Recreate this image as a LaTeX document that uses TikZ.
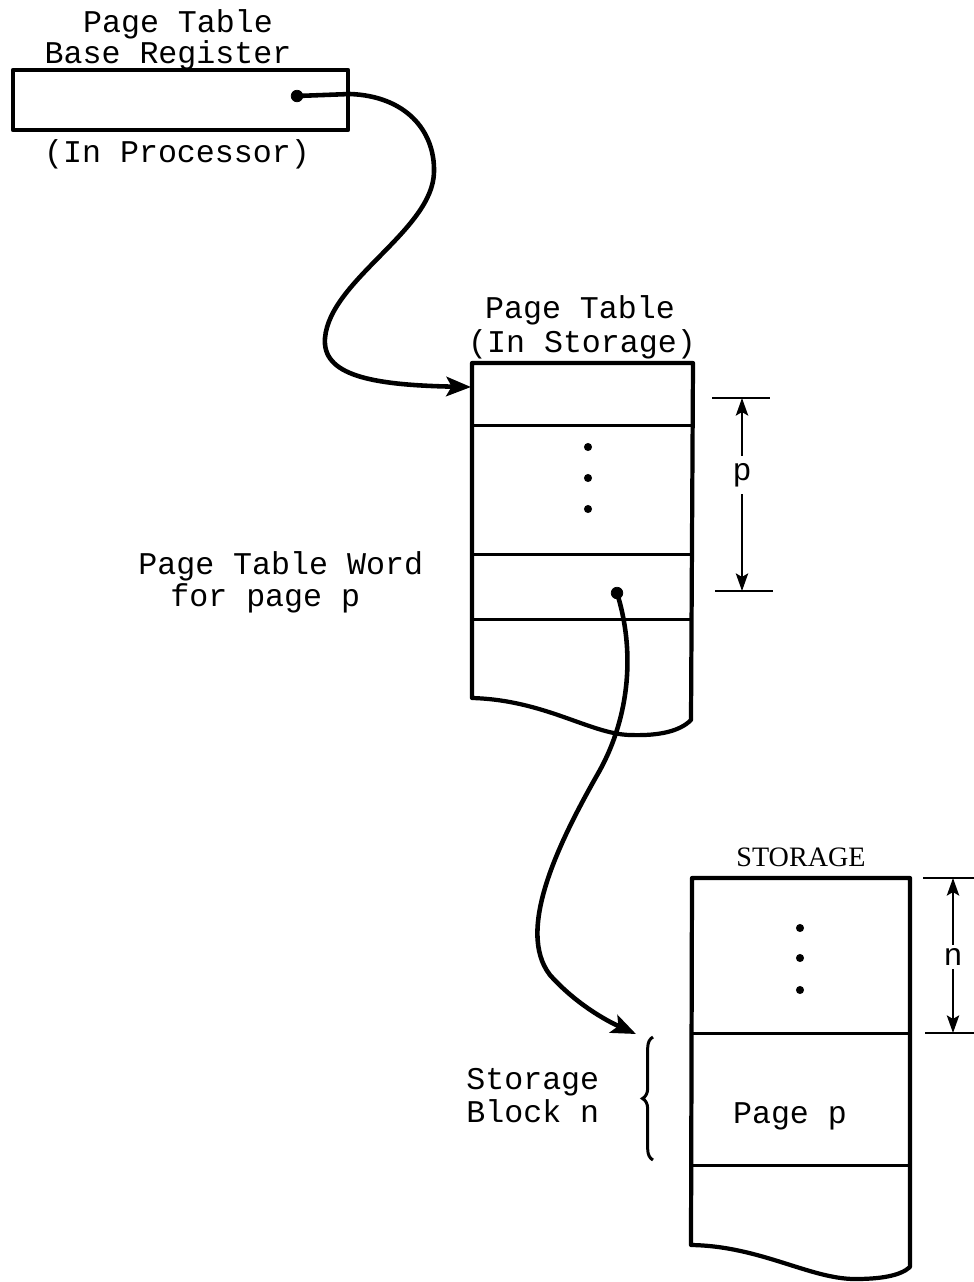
\documentclass[tikz,border=0pt]{standalone}
\usepackage{fontspec}
\setmainfont{Liberation Serif}
\setmonofont{Liberation Mono}
\usetikzlibrary{arrows.meta,decorations.pathreplacing}

\tikzset{
  outline/.style={line width=2.4pt,line join=round,line cap=round},
  row/.style={line width=1.7pt},
  pointer/.style={line width=2.6pt,-{Stealth[length=14pt,width=11pt,inset=3pt]}},
  dimen/.style={line width=1.2pt},
  dimarrow/.style={dimen,-{Stealth[length=10pt,width=7pt,inset=2pt]}},
  tt/.style={font=\ttfamily\fontsize{18}{18}\selectfont,inner sep=0pt},
}

\begin{document}
\begin{tikzpicture}[x=0.02cm,y=-0.02cm]
  \useasboundingbox (0,0) rectangle (974,1282);
  % base register
  \draw[outline] (13,70) rectangle (348,130);
  \node[tt,anchor=base] (regtitleA) at (178,32) {Page Table};
  \node[tt,anchor=base] (regtitleB) at (168,63) {Base Register};
  \node[tt,anchor=base] (regwhere) at (177,162) {(In Processor)};
  \coordinate (regptr) at (297,96);
  \filldraw (regptr) circle (3.3pt);

  % page table
  \draw[outline] (472,698) -- (472,363) -- (693,363) -- (691,720)
    .. controls (680,731) and (660,736) .. (630,735)
    .. controls (590,734) and (545,700) .. (472,698) -- cycle;
  \draw[row] (472,425) -- (693,425);
  \draw[row] (472,554) -- (693,554);
  \draw[row] (472,619) -- (692,619);
  \foreach \y in {447,478,509}
    \fill (588,\y) circle (2.3pt);
  \node[tt,anchor=base] (pttitleA) at (580,318) {Page Table};
  \node[tt,anchor=base] (pttitleB) at (582,352) {(In Storage)};
  \coordinate (ptbase) at (471,387);
  \coordinate (ptwptr) at (617,593);
  \filldraw (ptwptr) circle (3.3pt);
  \node[tt,anchor=base west] (ptwordA) at (138,574) {Page Table Word};
  \node[tt,anchor=base west] (ptwordB) at (170,606) {for page p};

  % offset p
  \draw[dimen] (712,398) -- (770,398);
  \draw[dimen] (715,591) -- (773,591);
  \coordinate (ptop) at (742,398);
  \coordinate (pbot) at (742,591);
  \node[tt,inner sep=4pt] (plabel) at (742,475) {p};
  \draw[dimarrow] (plabel) -- (ptop);
  \draw[dimarrow] (plabel) -- (pbot);

  % storage
  \draw[outline] (691,1245) -- (692,878) -- (910,878) -- (910,1267)
    .. controls (900,1276) and (880,1279) .. (855,1279)
    .. controls (810,1279) and (760,1246) .. (691,1245) -- cycle;
  \draw[row] (692,1033) -- (910,1033);
  \draw[row] (692,1165) -- (910,1165);
  \foreach \y in {928,958,990}
    \fill (800,\y) circle (2.3pt);
  \node[font=\fontsize{16}{16}\selectfont,inner sep=0pt,anchor=base] (stitle) at (801,866) {STORAGE};
  \node[tt,anchor=base] (pagep) at (790,1123) {Page p};
  \node[tt,anchor=base west] (blockA) at (466,1089) {Storage};
  \node[tt,anchor=base west] (blockB) at (466,1122) {Block n};
  \draw[row,decorate,decoration={brace,amplitude=6pt}] (653,1160) -- (653,1037);
  \coordinate (blockn) at (636,1034);

  % offset n
  \draw[dimen] (923,878) -- (974,878);
  \draw[dimen] (925,1033) -- (974,1033);
  \coordinate (ntop) at (953,878);
  \coordinate (nbot) at (953,1033);
  \node[tt,inner sep=2pt] (nlabel) at (953,957) {n};
  \draw[dimarrow] (nlabel) -- (ntop);
  \draw[dimarrow] (nlabel) -- (nbot);

  % pointers
  \draw[pointer] (regptr) -- (350,94)
    .. controls (405,96) and (435,130) .. (434,172)
    .. controls (433,230) and (330,280) .. (325,338)
    .. controls (322,375) and (370,385) .. (ptbase);
  \draw[pointer] (ptwptr)
    .. controls (635,650) and (630,715) .. (600,770)
    .. controls (560,840) and (515,930) .. (550,975)
    .. controls (575,1003) and (605,1020) .. (blockn);
\end{tikzpicture}
\end{document}
